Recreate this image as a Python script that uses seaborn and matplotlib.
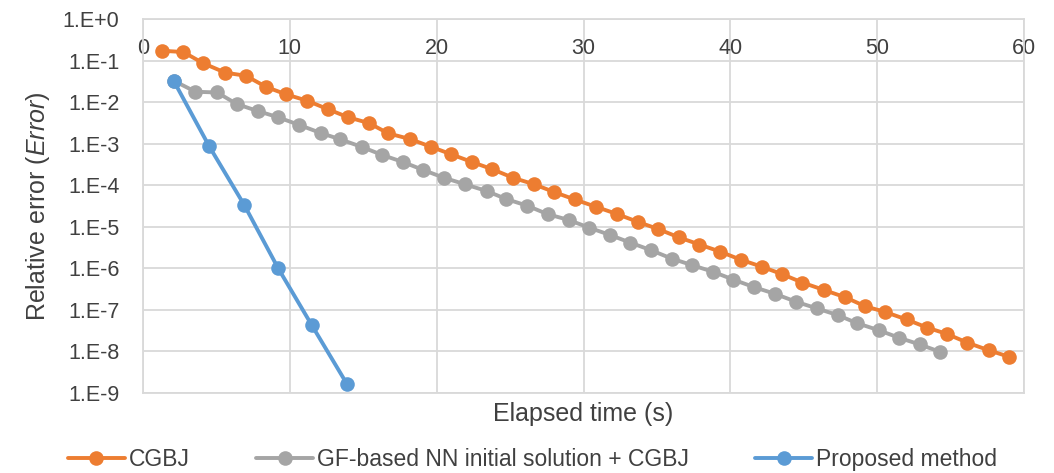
import matplotlib
matplotlib.use("Agg")
import matplotlib.pyplot as plt
import seaborn as sns
import pandas as pd
from matplotlib.ticker import FixedLocator, FixedFormatter

# ---- data ----
cgbj_t = [1.31, 2.75, 4.1, 5.6, 7.0, 8.4, 9.75, 11.2, 12.6, 13.97, 15.4, 16.7,
          18.2, 19.6, 21.0, 22.4, 23.8, 25.2, 26.65, 28.0, 29.4, 30.85, 32.3,
          33.7, 35.1, 36.5, 37.9, 39.3, 40.7, 42.15, 43.55, 44.9, 46.35, 47.8,
          49.2, 50.5, 52.0, 53.4, 54.75, 56.15, 57.6, 59.0]
cgbj_err = [0.172, 0.16, 0.086, 0.051, 0.043, 0.023, 0.0153, 0.0107, 0.0067,
            0.0043, 0.0031, 0.00176, 1.28e-3, 8.4e-4, 5.5e-4, 3.6e-4, 2.4e-4,
            1.5e-4, 1.04e-4, 6.8e-5, 4.5e-5, 3.0e-5, 2.0e-5, 1.3e-5, 8.7e-6,
            5.5e-6, 3.7e-6, 2.5e-6, 1.6e-6, 1.08e-6, 7.1e-7, 4.5e-7, 3.0e-7,
            2.0e-7, 1.2e-7, 8.9e-8, 5.8e-8, 3.7e-8, 2.6e-8, 1.6e-8, 1.05e-8,
            7.3e-9]

gf_t = [2.14, 3.57, 5.05, 6.4, 7.8, 9.2, 10.65, 12.1, 13.45, 14.9, 16.3, 17.7,
        19.1, 20.5, 21.95, 23.4, 24.75, 26.15, 27.55, 29.0, 30.4, 31.8, 33.2,
        34.6, 36.0, 37.4, 38.85, 40.2, 41.6, 43.05, 44.5, 45.9, 47.3, 48.65,
        50.1, 51.5, 52.9, 54.3]
gf_err = [0.032, 0.0177, 0.017, 0.0089, 0.0061, 0.0043, 0.0028, 0.0018,
          0.00126, 8.3e-4, 5.3e-4, 3.6e-4, 2.3e-4, 1.5e-4, 1.04e-4, 7.2e-5,
          4.6e-5, 3.2e-5, 2.0e-5, 1.44e-5, 9.4e-6, 6.3e-6, 4.1e-6, 2.7e-6,
          1.7e-6, 1.18e-6, 8.1e-7, 5.3e-7, 3.5e-7, 2.4e-7, 1.54e-7, 1.07e-7,
          7.4e-8, 4.7e-8, 3.2e-8, 2.1e-8, 1.45e-8, 9.6e-9]

prop_t = [2.1, 4.5, 6.9, 9.2, 11.5, 13.9]
prop_err = [0.032, 8.7e-4, 3.3e-5, 1.0e-6, 4.2e-8, 1.6e-9]

series_names = ["CGBJ", "GF-based NN initial solution + CGBJ", "Proposed method"]
x_ticks = [0, 10, 20, 30, 40, 50, 60]
y_ticks = [1e0, 1e-1, 1e-2, 1e-3, 1e-4, 1e-5, 1e-6, 1e-7, 1e-8, 1e-9]
y_tick_labels = ["1.E+0", "1.E-1", "1.E-2", "1.E-3", "1.E-4", "1.E-5",
                 "1.E-6", "1.E-7", "1.E-8", "1.E-9"]

colors = ["#ED7D31", "#A5A5A5", "#5B9BD5"]

# ---- style ----
sns.set_theme(style="white")
plt.rcParams["font.family"] = ["Liberation Sans", "DejaVu Sans"]
plt.rcParams["mathtext.fontset"] = "custom"
plt.rcParams["mathtext.rm"] = "Liberation Sans"
plt.rcParams["mathtext.it"] = "Liberation Sans:italic"

fig = plt.figure(figsize=(10.54, 4.73), dpi=100)
ax = fig.add_axes([143 / 1054, 1 - 392.7 / 473, (1024 - 143) / 1054, (392.7 - 19) / 473])

datasets = [(cgbj_t, cgbj_err), (gf_t, gf_err), (prop_t, prop_err)]
for (t, e), name, c in zip(datasets, series_names, colors):
    df = pd.DataFrame({"t": t, "err": e})
    sns.lineplot(data=df, x="t", y="err", ax=ax, color=c, label=name,
                 marker="o", markersize=10.5, markeredgewidth=0, linewidth=2.8,
                 sort=False, estimator=None)

ax.set_yscale("log")
ax.set_xlim(0, 60)
ax.set_ylim(1e-9, 1e0)

ax.yaxis.set_major_locator(FixedLocator(y_ticks))
ax.yaxis.set_major_formatter(FixedFormatter(y_tick_labels))
ax.yaxis.set_minor_locator(FixedLocator([]))
ax.set_xticks(x_ticks)
ax.set_xticklabels([str(v) for v in x_ticks])

ax.xaxis.set_ticks_position("top")
ax.xaxis.set_label_position("bottom")
ax.tick_params(axis="x", length=0, pad=-29, labelsize=15.5, labelcolor="#404040")
ax.tick_params(axis="y", length=0, pad=17, labelsize=15.5, labelcolor="#404040")

ax.grid(True, which="major", color="#D9D9D9", linewidth=1.3)
for sp in ax.spines.values():
    sp.set_color("#D9D9D9")
    sp.set_linewidth(1.3)

ax.set_xlabel("Elapsed time (s)", fontsize=18, color="#404040", labelpad=7)
ax.set_ylabel(r"Relative error ($\mathit{Error}$)", fontsize=18, color="#404040", labelpad=8)

handles, labels = ax.get_legend_handles_labels()
ax.get_legend().remove()
fig.legend(handles, labels, loc="lower center", bbox_to_anchor=(0.505, -0.04), ncol=3,
           frameon=False, fontsize=16.5, handlelength=2.5, handletextpad=0.15,
           columnspacing=2.9, labelcolor="#404040")

fig.savefig("out.png", dpi=100)
